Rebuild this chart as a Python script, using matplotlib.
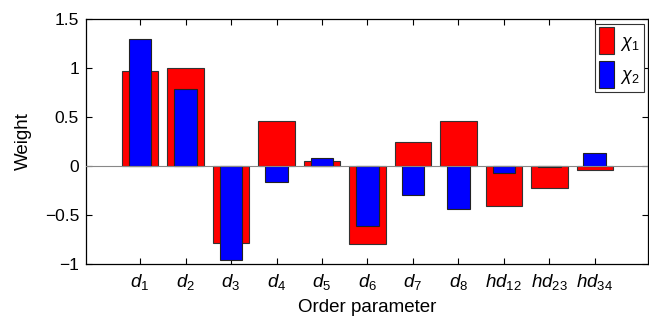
import matplotlib
matplotlib.use("Agg")
import matplotlib.pyplot as plt
import numpy as np

categories = [r"$d_1$", r"$d_2$", r"$d_3$", r"$d_4$", r"$d_5$", r"$d_6$", r"$d_7$",
              r"$d_8$", r"$hd_{12}$", r"$hd_{23}$", r"$hd_{34}$"]
chi1 = [0.97, 1.00, -0.79, 0.46, 0.05, -0.80, 0.25, 0.46, -0.41, -0.22, -0.04]
chi2 = [1.30, 0.79, -0.96, -0.16, 0.08, -0.61, -0.30, -0.44, -0.075, -0.015, 0.13]
yticks = [-1, -0.5, 0, 0.5, 1, 1.5]
ytick_labels = ["\u22121", "\u22120.5", "0", "0.5", "1", "1.5"]

plt.rcParams['font.family'] = ['Liberation Sans', 'DejaVu Sans']
plt.rcParams['mathtext.fontset'] = 'custom'
plt.rcParams['mathtext.rm'] = 'Liberation Sans'
plt.rcParams['mathtext.it'] = 'Liberation Sans:italic'
plt.rcParams['mathtext.bf'] = 'Liberation Sans:bold'

fig = plt.figure(figsize=(6.49, 3.2), dpi=100)
ax = fig.add_axes([0.1325, 0.175, 0.866, 0.7656])

x = np.arange(1, len(categories) + 1)
ax.bar(x, chi1, width=0.8, color='#ff0000', edgecolor='#333333', linewidth=0.8,
       label=r"$\chi_1$", zorder=2)
ax.bar(x, chi2, width=0.5, color='#0000ff', edgecolor='#222222', linewidth=0.8,
       label=r"$\chi_2$", zorder=3)
ax.axhline(0, color='#888888', linewidth=0.8, zorder=4)

ax.set_xlim(-0.19, 12.17)
ax.set_ylim(-1, 1.5)
ax.set_xticks(x)
ax.set_xticklabels(categories, fontsize=13.5)
ax.set_yticks(yticks)
ax.set_yticklabels(ytick_labels, fontsize=12.5)
ax.tick_params(direction='in', top=True, right=True, length=4, width=0.8)
ax.tick_params(axis='y', pad=5)
ax.tick_params(axis='x', pad=6)
for s in ax.spines.values():
    s.set_linewidth(0.9)

ax.set_ylabel("Weight", fontsize=13.5, labelpad=9)
ax.set_xlabel("Order parameter", fontsize=13.5, labelpad=5)

leg = ax.legend(loc='upper right', fontsize=13, handlelength=0.85, handleheight=1.95,
                handletextpad=0.35, borderpad=0.2, labelspacing=0.35,
                borderaxespad=0.25, fancybox=False, framealpha=1,
                edgecolor='#333333')
leg.get_frame().set_linewidth(0.8)

fig.savefig("out.png", dpi=100)
